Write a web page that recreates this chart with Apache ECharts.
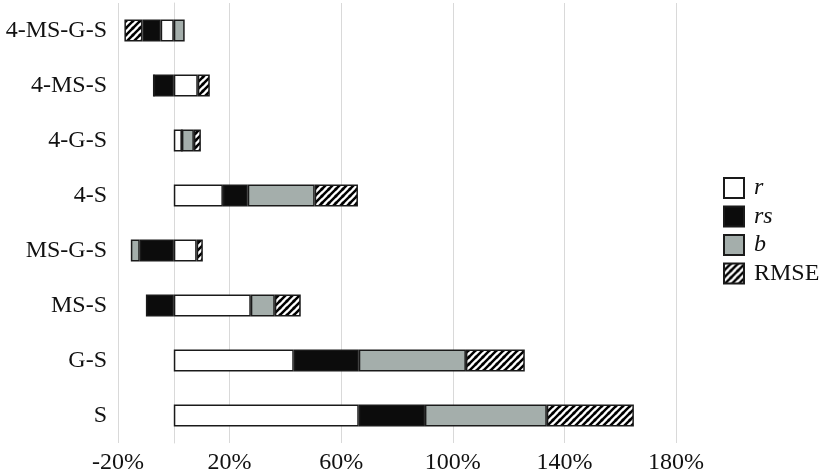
<!DOCTYPE html>
<html><head><meta charset="utf-8">
<script src="https://cdn.jsdelivr.net/npm/echarts@6/dist/echarts.min.js"></script>
<style>html,body{margin:0;padding:0;background:#fff}#c{width:826px;height:476px}</style>
</head><body><div id="c"></div>
<script>
var categories = ['S','G-S','MS-S','MS-G-S','4-S','4-G-S','4-MS-S','4-MS-G-S'];
var rVals    = [66.3, 43.0, 27.6,  8.2, 17.6, 2.9,  8.6, -4.7];
var rsVals   = [23.7, 23.3, -10.0, -12.2, 8.9, 0,  -7.2, -6.5];
var bVals    = [43.7, 38.4,  8.6, -3.2, 24.0, 4.3,  0,    3.9];
var rmseVals = [31.2, 21.1,  9.3,  2.2, 15.5, 2.5,  4.3, -6.5];
var seriesNames = ['r','rs','b','RMSE'];
var xTicks = {min:-20, max:180, step:40};

var cv = document.createElement('canvas');
cv.width = 7; cv.height = 7;
var g = cv.getContext('2d');
g.fillStyle = '#fff'; g.fillRect(0,0,7,7);
g.strokeStyle = '#000'; g.lineWidth = 2.5;
[[-7,7,7,-7],[0,7,7,0],[0,14,14,0],[-3.5,3.5,3.5,-3.5],[3.5,10.5,10.5,3.5]].forEach(function(l){
  g.beginPath(); g.moveTo(l[0],l[1]); g.lineTo(l[2],l[3]); g.stroke();
});

var fills = ['#ffffff', '#0c0c0c', '#a4aeab', {image: cv, repeat: 'repeat'}];
var vals = [rVals, rsVals, bVals, rmseVals];
var font = "'Liberation Serif', 'Times New Roman', serif";

var series = seriesNames.map(function(n, i){
  return {
    name: n, type: 'bar', stack: 'all', barWidth: '40%',
    data: vals[i],
    itemStyle: {color: fills[i], borderColor: '#1a1a1a', borderWidth: 1.5},
    emphasis: {disabled: true}
  };
});

var chart = echarts.init(document.getElementById('c'));
chart.setOption({
  animation: false,
  grid: {left: 118, right: 150, top: 3, bottom: 33},
  legend: {
    orient: 'vertical', left: 723, top: 176, icon: 'rect', padding: 0,
    itemWidth: 20, itemHeight: 20, itemGap: 4.5,
    data: seriesNames,
    itemStyle: {borderWidth: 2},
    formatter: function(n){ return n === 'RMSE' ? '{n|' + n + '}' : '{i|' + n + '}'; },
    textStyle: {fontFamily: font, fontSize: 24, color: '#111',
      rich: {
        i: {fontFamily: font, fontSize: 24, fontStyle: 'italic', color: '#111', padding: [0,0,0,5]},
        n: {fontFamily: font, fontSize: 24, color: '#111', padding: [0,0,0,5]}
      }}
  },
  xAxis: {
    type: 'value', min: xTicks.min, max: xTicks.max, interval: xTicks.step,
    axisLine: {show: false}, axisTick: {show: false},
    splitLine: {lineStyle: {color: '#d9d9d9', width: 1}},
    axisLabel: {formatter: '{value}%', fontFamily: font, fontSize: 24, color: '#111', margin: 8}
  },
  yAxis: {
    type: 'category', data: categories,
    axisLine: {show: true, onZero: true, lineStyle: {color: '#d9d9d9', width: 1}},
    axisTick: {show: false},
    axisLabel: {fontFamily: font, fontSize: 24, color: '#111', margin: 11}
  },
  series: series
});
</script></body></html>
